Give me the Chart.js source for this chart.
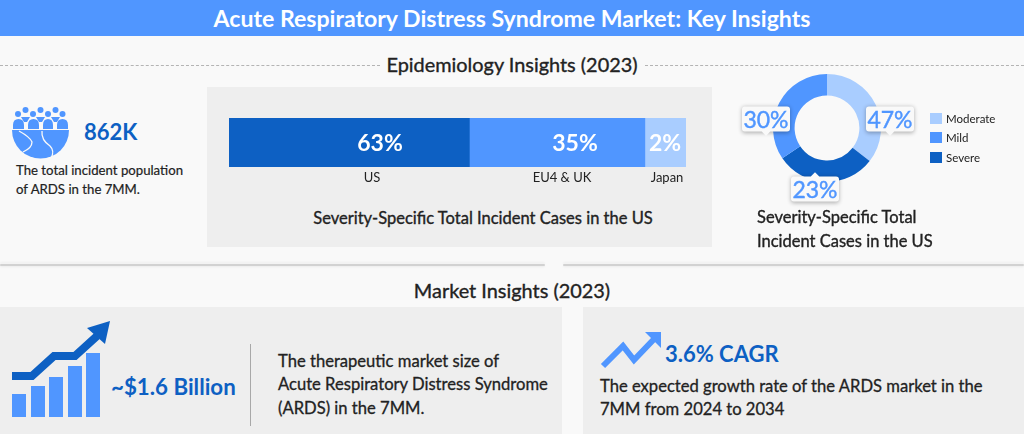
<!DOCTYPE html>
<html>
<head>
<meta charset="utf-8">
<title>ARDS Market: Key Insights</title>
<script src="https://cdn.jsdelivr.net/npm/chart.js@4"></script>
<style>
  html, body { margin: 0; padding: 0; }
  body { width: 1024px; height: 434px; position: relative; overflow: hidden; background: #f9f9f9; font-family: Lato, sans-serif; color: #222; }
  .t { position: absolute; white-space: nowrap; transform: translateY(-50%); }
  .c { transform: translate(-50%, -50%); }
  .panel { position: absolute; background: #eeeeee; }
  .dash { position: absolute; top: 65px; height: 0; border-top: 1px dashed #b4b4b4; }
  .sep { position: absolute; top: 264px; height: 2px; background: #d2d2d2; border-radius: 2px; box-shadow: 0 -2px 2px #f0f0f0, 0 1px 2px #ececec; }
  .blue { color: #0d60c3; font-weight: 700; }
  .body { font-size: 13.2px; -webkit-text-stroke: .2px #222; }
  .body.big { font-size: 16.6px; -webkit-text-stroke: .3px #222; }
  .sub { font-size: 16.5px; -webkit-text-stroke: .35px #222; }
  .head { font-size: 19.9px; -webkit-text-stroke: .35px #222; }
  .callout { position: absolute; background: #f9f9f9; color: #5096ff; font-size: 23px; -webkit-text-stroke: .4px #5096ff; width: 48px; height: 25px; line-height: 25px; text-align: center; border-radius: 3px; box-shadow: 0 1px 4px rgba(0,0,0,.3); transform: translate(-50%, -50%); }
  .callout::after { content: ""; position: absolute; left: 50%; margin-left: -3px; width: 6px; height: 6px; background: #f9f9f9; transform: rotate(45deg); }
  .callout.dn::after { bottom: -3px; }
  .callout.up::after { top: -3px; }
  .swatch { position: absolute; width: 12px; height: 11px; }
  canvas { position: absolute; }
  svg { position: absolute; left: 0; top: 0; }
</style>
</head>
<body>
<div style="position:absolute;left:0;top:0;width:1024px;height:36px;background:#5096ff"></div>
<div class="t c" style="left:512px;top:18px;color:#fff;font-size:23.1px;font-weight:700">Acute Respiratory Distress Syndrome Market: Key Insights</div>

<div class="dash" style="left:0;width:380px"></div>
<div class="dash" style="left:645px;width:379px"></div>
<div class="t c head" style="left:512px;top:64px">Epidemiology Insights (2023)</div>

<div class="panel" style="left:207px;top:87px;width:505px;height:160px"></div>
<div class="sep" style="left:0;width:545px"></div>
<div class="sep" style="left:563px;width:461px"></div>
<div class="t c head" style="left:512px;top:290px">Market Insights (2023)</div>
<div class="panel" style="left:0;top:307px;width:562px;height:127px"></div>
<div class="panel" style="left:583px;top:307px;width:441px;height:127px"></div>

<svg width="1024" height="434" viewBox="0 0 1024 434">
  <!-- people icon -->
  <g fill="#5096ff">
    <path d="M12 130 H69 A28.5 28.5 0 0 1 12 130 Z"/>
    <circle cx="18" cy="114" r="3"/><circle cx="25.5" cy="110" r="3"/><circle cx="33" cy="114" r="3"/>
    <circle cx="40.5" cy="110" r="3"/><circle cx="48" cy="114" r="3"/><circle cx="55.5" cy="110" r="3"/><circle cx="62.5" cy="114" r="3"/>
    <path d="M21 117 H30 L27 122 H24 Z M36 117 H45 L42 122 H39 Z M51 117 H60 L57 122 H54 Z"/>
    <path d="M13 129 V125 Q13 119 18.5 119 Q24 119 24 125 V129 Z M28 129 V125 Q28 119 33.5 119 Q39 119 39 125 V129 Z M43 129 V125 Q43 119 48 119 Q53 119 53 125 V129 Z M57 129 V125 Q57 119 62.5 119 Q68 119 68 125 V129 Z"/>
  </g>
  <g fill="none" stroke="#f9f9f9" stroke-width="1.3">
    <path d="M19 131 Q30 137 32 142 Q32 148 23 152"/>
    <path d="M42 131 Q41 140 50 146 Q55 151 51 158"/>
  </g>
  <!-- market size icon -->
  <g fill="#5096ff">
    <rect x="12" y="394" width="14" height="23"/><rect x="31" y="386" width="14" height="31"/><rect x="49" y="377" width="14" height="40"/><rect x="68" y="366" width="14" height="51"/><rect x="86" y="353" width="14" height="64"/>
  </g>
  <path d="M12 376 H32 L54 356 H75 L97 336" fill="none" stroke="#0d60c3" stroke-width="8"/>
  <polygon points="110,321 87,328 105,344" fill="#0d60c3"/>
  <line x1="250.5" y1="344" x2="250.5" y2="426" stroke="#a8a8a8" stroke-width="1"/>
  <!-- CAGR icon -->
  <path d="M603 366 L623 346 L634 360 L657 336" fill="none" stroke="#5096ff" stroke-width="6"/>
  <polygon points="645,332 661,332 661,348" fill="#5096ff"/>
</svg>

<div class="t blue" style="left:84px;top:131px;font-size:22px">862K</div>
<div class="t body" style="left:16px;top:170px">The total incident population</div>
<div class="t body" style="left:16px;top:189px">of ARDS in the 7MM.</div>

<canvas id="regionChart" style="left:229px;top:118px;width:457px;height:49px"></canvas>
<div id="regionValues"></div>
<div id="regionNames"></div>
<div class="t c sub" style="left:483px;top:218px">Severity-Specific Total Incident Cases in the US</div>

<canvas id="severityChart" style="left:767px;top:68px;width:120px;height:120px"></canvas>
<div id="severityLabels"></div>
<div id="severityLegend"></div>
<div class="t sub" style="left:757px;top:217px">Severity-Specific Total</div>
<div class="t sub" style="left:757px;top:241px">Incident Cases in the US</div>

<div class="t blue" style="left:111px;top:386px;font-size:22.3px">~$1.6 Billion</div>
<div class="t body big" style="left:278px;top:361px">The therapeutic market size of</div>
<div class="t body big" style="left:278px;top:384px">Acute Respiratory Distress Syndrome</div>
<div class="t body big" style="left:278px;top:408px">(ARDS) in the 7MM.</div>

<div class="t blue" style="left:665px;top:353px;font-size:22px">3.6% CAGR</div>
<div class="t body big" style="left:600px;top:386px">The expected growth rate of the ARDS market in the</div>
<div class="t body big" style="left:600px;top:409px">7MM from 2024 to 2034</div>

<script>
// Printed figures and drawn lengths disagree in the original graphic,
// so each chart keeps both: the label text and the share as it was drawn.
const regionNames = ['US', 'EU4 & UK', 'Japan'];
const regionLabels = ['63%', '35%', '2%'];
const regionDrawn = [52.6, 38.4, 9.0];
const regionColors = ['#0d60c3', '#5096ff', '#a9cdff'];

const severityNames = ['Moderate', 'Severe', 'Mild'];
const severityLabels = ['47%', '23%', '30%'];
const severityDrawn = [35.5, 30, 34.5];
const severityColors = ['#a9cdff', '#0d60c3', '#5096ff'];

// Placement of the overlay text (not data)
const regionValueX = [380, 575, 665];
const regionNameX = [372, 562, 667];
const calloutPos = [[890, 119, 'dn'], [815, 189, 'up'], [766, 119, 'dn']];
const legendOrder = [0, 2, 1];
const legendY = [118, 137, 157];

new Chart(document.getElementById('regionChart'), {
  type: 'bar',
  data: {
    labels: ['Share'],
    datasets: regionNames.map((name, i) => ({
      label: name,
      data: [regionDrawn[i]],
      backgroundColor: regionColors[i],
      barPercentage: 1,
      categoryPercentage: 1
    }))
  },
  options: {
    indexAxis: 'y',
    responsive: false,
    animation: false,
    layout: { padding: 0 },
    plugins: { legend: { display: false }, tooltip: { enabled: false } },
    scales: {
      x: { stacked: true, display: false, min: 0, max: 100 },
      y: { stacked: true, display: false }
    }
  }
});

new Chart(document.getElementById('severityChart'), {
  type: 'doughnut',
  data: {
    labels: severityNames,
    datasets: [{ data: severityDrawn, backgroundColor: severityColors, borderWidth: 0 }]
  },
  options: {
    responsive: false,
    animation: false,
    cutout: '60%',
    layout: { padding: 6 },
    plugins: { legend: { display: false }, tooltip: { enabled: false } }
  }
});

function addText(parentId, html, cls, style) {
  const el = document.createElement('div');
  el.className = cls;
  el.style.cssText = style;
  el.textContent = html;
  document.getElementById(parentId).appendChild(el);
}

regionLabels.forEach((txt, i) => {
  addText('regionValues', txt, 't c', `left:${regionValueX[i]}px;top:142px;color:#fff;font-size:23px;font-weight:700`);
  addText('regionNames', regionNames[i], 't c', `left:${regionNameX[i]}px;top:177px;font-size:13px`);
});

severityLabels.forEach((txt, i) => {
  const [x, y, dir] = calloutPos[i];
  addText('severityLabels', txt, 'callout ' + dir, `left:${x}px;top:${y}px`);
});

legendOrder.forEach((idx, i) => {
  const sw = document.createElement('div');
  sw.className = 'swatch';
  sw.style.cssText = `left:930px;top:${legendY[i] - 5}px;background:${severityColors[idx]}`;
  document.getElementById('severityLegend').appendChild(sw);
  addText('severityLegend', severityNames[idx], 't', `left:946px;top:${legendY[i]}px;font-size:11.5px`);
});
</script>
</body>
</html>
